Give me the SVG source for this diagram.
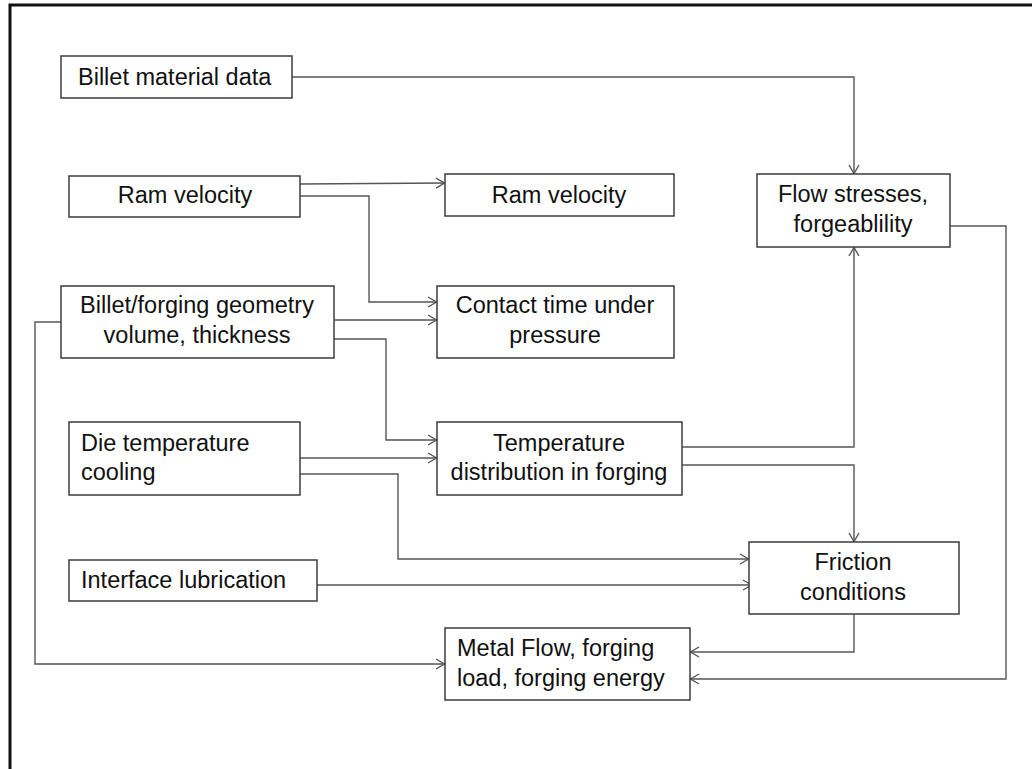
<svg xmlns="http://www.w3.org/2000/svg" width="1032" height="769" viewBox="0 0 1032 769">
<style>
.box{fill:#fff;stroke:#3c3c3c;stroke-width:1.5}
.t{font-family:"Liberation Sans",Arial,sans-serif;font-size:23.5px;fill:#111}
.c{text-anchor:middle}
.ln{fill:none;stroke:#555;stroke-width:1.4;marker-end:url(#ah)}
</style>
<defs>
<marker id="ah" viewBox="0 0 10 12" refX="10" refY="6" markerWidth="10" markerHeight="12" markerUnits="userSpaceOnUse" orient="auto">
<path d="M1,1 L9.5,6 L1,11" fill="none" stroke="#555" stroke-width="1.4"/>
</marker>
</defs>
<rect width="1032" height="769" fill="#fff"/>
<rect x="10" y="5" width="1040" height="800" fill="none" stroke="#111" stroke-width="3"/>
<g id="connectors">
<path class="ln" d="M292,77 H854 V174"/>
<path class="ln" d="M300,184 L445,183"/>
<path class="ln" d="M300,196 H369 V302 H437"/>
<path class="ln" d="M334,320 H437"/>
<path class="ln" d="M334,339 H386 V440 H437"/>
<path class="ln" d="M61,322 H35 V664 H445"/>
<path class="ln" d="M300,458 H437"/>
<path class="ln" d="M300,474 H398 V559 H749"/>
<path class="ln" d="M317,585 H752"/>
<path class="ln" d="M682,447 H854 V247"/>
<path class="ln" d="M682,465 H854 V542"/>
<path class="ln" d="M854,614 V652 H690"/>
<path class="ln" d="M950,226 H1006 V679 H690"/>
</g>
<g id="billet-material">
<rect class="box" x="61" y="56" width="231" height="42"/>
<text class="t" x="78" y="85">Billet material data</text>
</g>
<g id="ram-velocity-in">
<rect class="box" x="69" y="176" width="231" height="41"/>
<text class="t c" x="185" y="203">Ram velocity</text>
</g>
<g id="ram-velocity-out">
<rect class="box" x="445" y="174" width="229" height="42"/>
<text class="t c" x="559" y="203">Ram velocity</text>
</g>
<g id="flow-stresses">
<rect class="box" x="757" y="174" width="193" height="73"/>
<text class="t c" x="853" y="202">Flow stresses,</text>
<text class="t c" x="853" y="232">forgeablility</text>
</g>
<g id="billet-geometry">
<rect class="box" x="61" y="286" width="273" height="72"/>
<text class="t c" x="197" y="313">Billet/forging geometry</text>
<text class="t c" x="197" y="343">volume, thickness</text>
</g>
<g id="contact-time">
<rect class="box" x="437" y="286" width="237" height="72"/>
<text class="t c" x="555" y="313">Contact time under</text>
<text class="t c" x="555" y="343">pressure</text>
</g>
<g id="die-temperature">
<rect class="box" x="69" y="422" width="231" height="73"/>
<text class="t" x="81" y="451">Die temperature</text>
<text class="t" x="81" y="480">cooling</text>
</g>
<g id="temperature-distribution">
<rect class="box" x="437" y="422" width="245" height="73"/>
<text class="t c" x="559" y="451">Temperature</text>
<text class="t c" x="559" y="480">distribution in forging</text>
</g>
<g id="interface-lubrication">
<rect class="box" x="69" y="560" width="248" height="41"/>
<text class="t" x="81" y="588">Interface lubrication</text>
</g>
<g id="friction">
<rect class="box" x="749" y="542" width="210" height="72"/>
<text class="t c" x="853" y="570">Friction</text>
<text class="t c" x="853" y="600">conditions</text>
</g>
<g id="metal-flow">
<rect class="box" x="445" y="628" width="245" height="72"/>
<text class="t" x="457" y="656">Metal Flow, forging</text>
<text class="t" x="457" y="686">load, forging energy</text>
</g>
</svg>
